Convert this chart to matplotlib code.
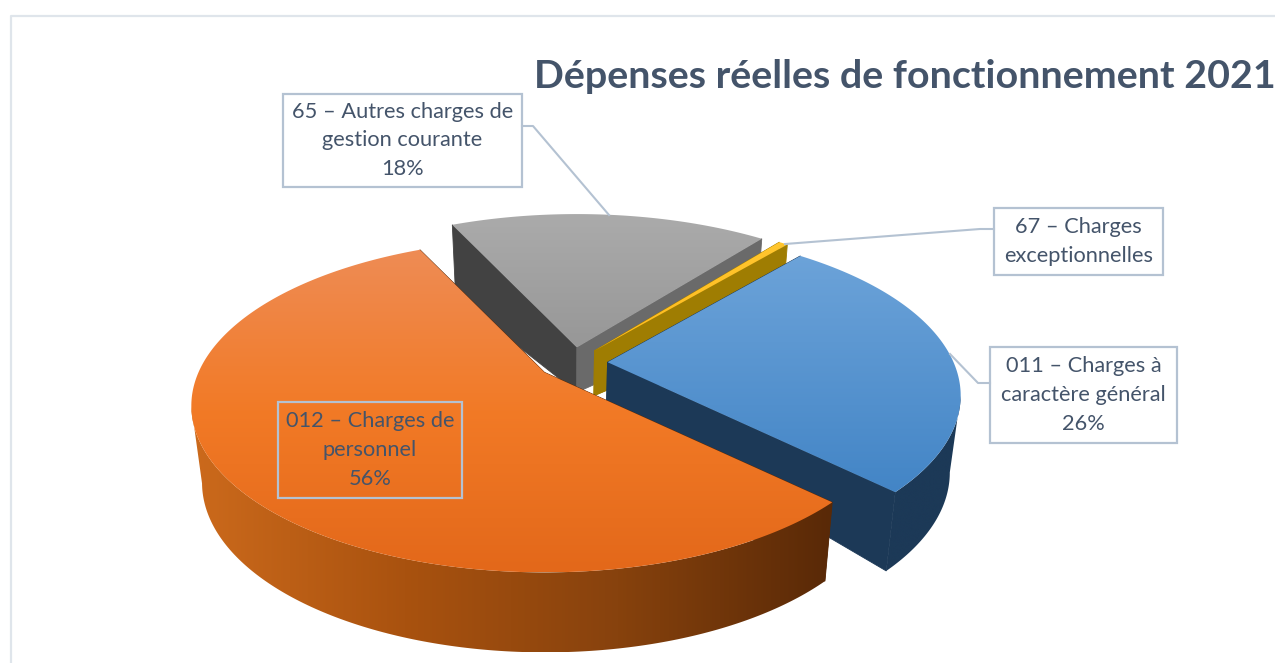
import numpy as np
import matplotlib
matplotlib.use('Agg')
import matplotlib.pyplot as plt
from matplotlib.colors import LinearSegmentedColormap
from matplotlib.patches import Polygon, Rectangle

plt.rcParams['font.family'] = ['Lato', 'DejaVu Sans']

categories = ['011', '012', '65', '67']
shares = [26.2, 55.7, 17.6, 0.5]
label_lines = {
    '011': '011 – Charges à\ncaractère général\n26%',
    '012': '012 – Charges de\npersonnel\n56%',
    '65': '65 – Autres charges de\ngestion courante\n18%',
    '67': '67 – Charges\nexceptionnelles',
}
title = 'Dépenses réelles de fonctionnement 2021'

TEXT = '#44546A'
BORDER = '#B4C2D2'

# pie projection, everything in pixels of the picture
CX, CY = 573, 363
RX, RY = 346, 160
TILT = 0.2
EXPLODE = 0.1
START = 40.0
SHRINK = 0.972

top_colors = {
    '011': ['#6CA3D9', '#4385C6'],
    '012': ['#EE8C55', '#F27A26', '#E3681A'],
    '65': ['#ABABAB', '#979797'],
    '67': ['#FFC62E', '#FFBB1E'],
}
rim_colors = {
    '011': ['#1C3957', '#1C3957'],
    '012': ['#CC6A1C', '#A9520F', '#87420D', '#592907'],
}
near_wall_colors = {
    '011': '#1C3957',
    '012': '#5A2A08',
    '65': '#424242',
    '67': '#9F7D02',
}
far_wall_colors = {
    '011': '#1C3957',
    '012': '#5A2A08',
    '65': '#6A6A6A',
    '67': '#9F7D02',
}


def project(deg, radius=1.0, apex=(CX, CY)):
    # clockwise from the top, the near side of the pie is pulled down
    th = np.radians(deg)
    u = radius * np.sin(th)
    v = -radius * np.cos(th)
    w = 1 - TILT * v
    return apex[0] + RX * u / w, apex[1] + RY * v / w, v


def lower(x, y, v):
    return CX + (x - CX) * SHRINK, y + 76 + 4 * v


def grad_fill(ax, pts, colors, vertical, zorder):
    pts = np.asarray(pts)
    cmap = LinearSegmentedColormap.from_list('g', colors)
    ramp = np.linspace(0, 1, 256)
    ramp = ramp[:, None] if vertical else ramp[None, :]
    x0, y0 = pts.min(axis=0)
    x1, y1 = pts.max(axis=0)
    im = ax.imshow(ramp, cmap=cmap, aspect='auto', extent=(x0, x1, y1, y0),
                   origin='upper', zorder=zorder, interpolation='bilinear')
    patch = Polygon(pts, closed=True, transform=ax.transData, fc='none', ec='none')
    ax.add_patch(patch)
    im.set_clip_path(patch)


def draw_slice(ax, name, a0, a1, zorder):
    mid = (a0 + a1) / 2
    apex = project(mid, EXPLODE)[:2]
    arc = np.linspace(a0, a1, 260)
    x, y, v = project(arc, 1.0, apex)
    xb, yb = lower(x, y, v)
    abx = CX + (apex[0] - CX) * SHRINK
    aby = apex[1] + 45

    wall0 = [apex, (x[0], y[0]), (xb[0], yb[0]), (abx, aby)]
    wall1 = [apex, (x[-1], y[-1]), (xb[-1], yb[-1]), (abx, aby)]
    ax.add_patch(Polygon(wall0, closed=True, fc=near_wall_colors[name],
                         ec=near_wall_colors[name], lw=0.6, zorder=zorder))
    ax.add_patch(Polygon(wall1, closed=True, fc=far_wall_colors[name],
                         ec=far_wall_colors[name], lw=0.6, zorder=zorder))

    # only the part of the rim that faces the viewer
    front = v >= TILT
    if front.any():
        rim = np.vstack([np.column_stack([x[front], y[front]]),
                         np.column_stack([xb[front], yb[front]])[::-1]])
        grad_fill(ax, rim, rim_colors[name], False, zorder + 0.1)

    top = np.vstack([[apex], np.column_stack([x, y])])
    grad_fill(ax, top, top_colors[name], True, zorder + 0.2)


def label_box(ax, text, x0, y0, x1, y1):
    ax.add_patch(Rectangle((x0, y0), x1 - x0, y1 - y0, fc='none', ec=BORDER, lw=1.6, zorder=10))
    ax.text((x0 + x1) / 2, (y0 + y1) / 2, text, ha='center', va='center', color=TEXT,
            fontsize=15.7, linespacing=1.55, zorder=11)


def main():
    fig = plt.figure(figsize=(12.75, 6.63), dpi=100)
    ax = fig.add_axes([0, 0, 1, 1])

    # frame of the chart area, cut by the picture on two sides
    ax.plot([11, 11, 1275], [663, 16, 16], color='#DFE5EB', lw=1.6, zorder=1)

    degs = np.array(shares) / sum(shares) * 360
    starts = START + np.concatenate([[0], np.cumsum(degs)[:-1]])
    ends = starts + degs
    spans = dict(zip(categories, zip(starts, ends)))

    # back to front
    for i, name in enumerate(['65', '67', '011', '012']):
        draw_slice(ax, name, spans[name][0], spans[name][1], 3 + i)

    ax.plot([522, 533, 609], [126, 126, 215], color=BORDER, lw=1.5, zorder=9)
    ax.plot([994, 980, 785], [229, 229, 244], color=BORDER, lw=1.5, zorder=9)
    ax.plot([990, 978, 950], [383, 383, 354], color=BORDER, lw=1.5, zorder=9)

    label_box(ax, label_lines['65'], 283, 94, 522, 187)
    label_box(ax, label_lines['67'], 994, 208, 1163, 275)
    label_box(ax, label_lines['011'], 990, 347, 1177, 443)
    label_box(ax, label_lines['012'], 278, 402, 462, 498)

    ax.text(534, 76, title, ha='left', va='center', color=TEXT, fontsize=28.35,
            fontweight='bold', zorder=11)

    ax.set_xlim(0, 1275)
    ax.set_ylim(663, 0)
    ax.axis('off')
    fig.savefig('out.png', dpi=100, facecolor='white')


if __name__ == '__main__':
    main()
